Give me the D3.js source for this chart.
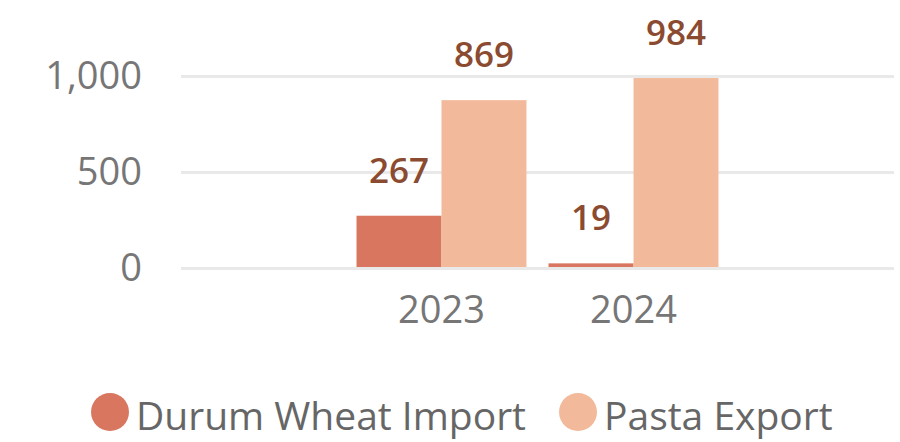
<!DOCTYPE html>
<html>
<head>
<meta charset="utf-8">
<script src="https://cdn.jsdelivr.net/npm/d3@7"></script>
<style>
  html, body { margin: 0; padding: 0; background: #fff; }
  svg { display: block; font-family: "Open Sans", "Noto Sans", sans-serif; }
</style>
</head>
<body>
<svg id="chart"></svg>
<script>
const years = ["2023", "2024"];
const seriesNames = ["Durum Wheat Import", "Pasta Export"];
const durumImport = [267, 19];
const pastaExport = [869, 984];
const yTicks = [0, 500, 1000];
const colors = ["#d9765f", "#f2ba9a"];

const width = 900, height = 442;
const svg = d3.select("#chart").attr("width", width).attr("height", height);

const x = d3.scaleBand().domain(years).range([181, 894])
  .paddingInner(0.115).paddingOuter(0.914);
const x1 = d3.scaleBand().domain(seriesNames).range([0, x.bandwidth()]);
const y = d3.scaleLinear().domain([0, 1000]).range([267, 75]);

// gridlines
svg.append("g").selectAll("line")
  .data(yTicks)
  .join("line")
  .attr("x1", 181).attr("x2", 894)
  .attr("y1", d => y(d) + 1.5).attr("y2", d => y(d) + 1.5)
  .attr("stroke", "#e9e9e9")
  .attr("stroke-width", 3);

// y tick labels
svg.append("g").selectAll("text")
  .data(yTicks)
  .join("text")
  .attr("x", 142)
  .attr("y", d => y(d) + 1)
  .attr("dy", "0.35em")
  .attr("text-anchor", "end")
  .attr("font-size", 38)
  .attr("fill", "#767676")
  .text(d => d3.format(",")(d));

// bars
const rows = years.map((yr, i) => ({ year: yr, values: [durumImport[i], pastaExport[i]] }));
const grp = svg.append("g").selectAll("g")
  .data(rows)
  .join("g")
  .attr("transform", d => `translate(${x(d.year)},0)`);

grp.selectAll("rect")
  .data(d => d.values.map((v, j) => ({ name: seriesNames[j], v, j })))
  .join("rect")
  .attr("x", d => x1(d.name))
  .attr("width", x1.bandwidth())
  .attr("y", d => y(d.v))
  .attr("height", d => y(0) - y(d.v))
  .attr("fill", d => colors[d.j]);

// value labels
grp.selectAll("text")
  .data(d => d.values.map((v, j) => ({ name: seriesNames[j], v, j })))
  .join("text")
  .attr("x", d => x1(d.name) + x1.bandwidth() / 2)
  .attr("y", d => y(d.v) - 33)
  .attr("text-anchor", "middle")
  .attr("font-size", 35)
  .attr("font-weight", 600)
  .attr("fill", "#8a4b30")
  .text(d => d.v);

// x labels
svg.append("g").selectAll("text")
  .data(years)
  .join("text")
  .attr("x", d => x(d) + x.bandwidth() / 2)
  .attr("y", 323)
  .attr("text-anchor", "middle")
  .attr("font-size", 38)
  .attr("fill", "#767676")
  .text(d => d);

// legend
const legendX = [110, 578];
const leg = svg.append("g").selectAll("g")
  .data(seriesNames)
  .join("g")
  .attr("transform", (d, i) => `translate(${legendX[i]},412)`);
leg.append("circle").attr("r", 19).attr("fill", (d, i) => colors[i]);
leg.append("text")
  .attr("x", 26)
  .attr("y", 18)
  .attr("font-size", 39)
  .attr("fill", "#666")
  .text(d => d);
</script>
</body>
</html>
